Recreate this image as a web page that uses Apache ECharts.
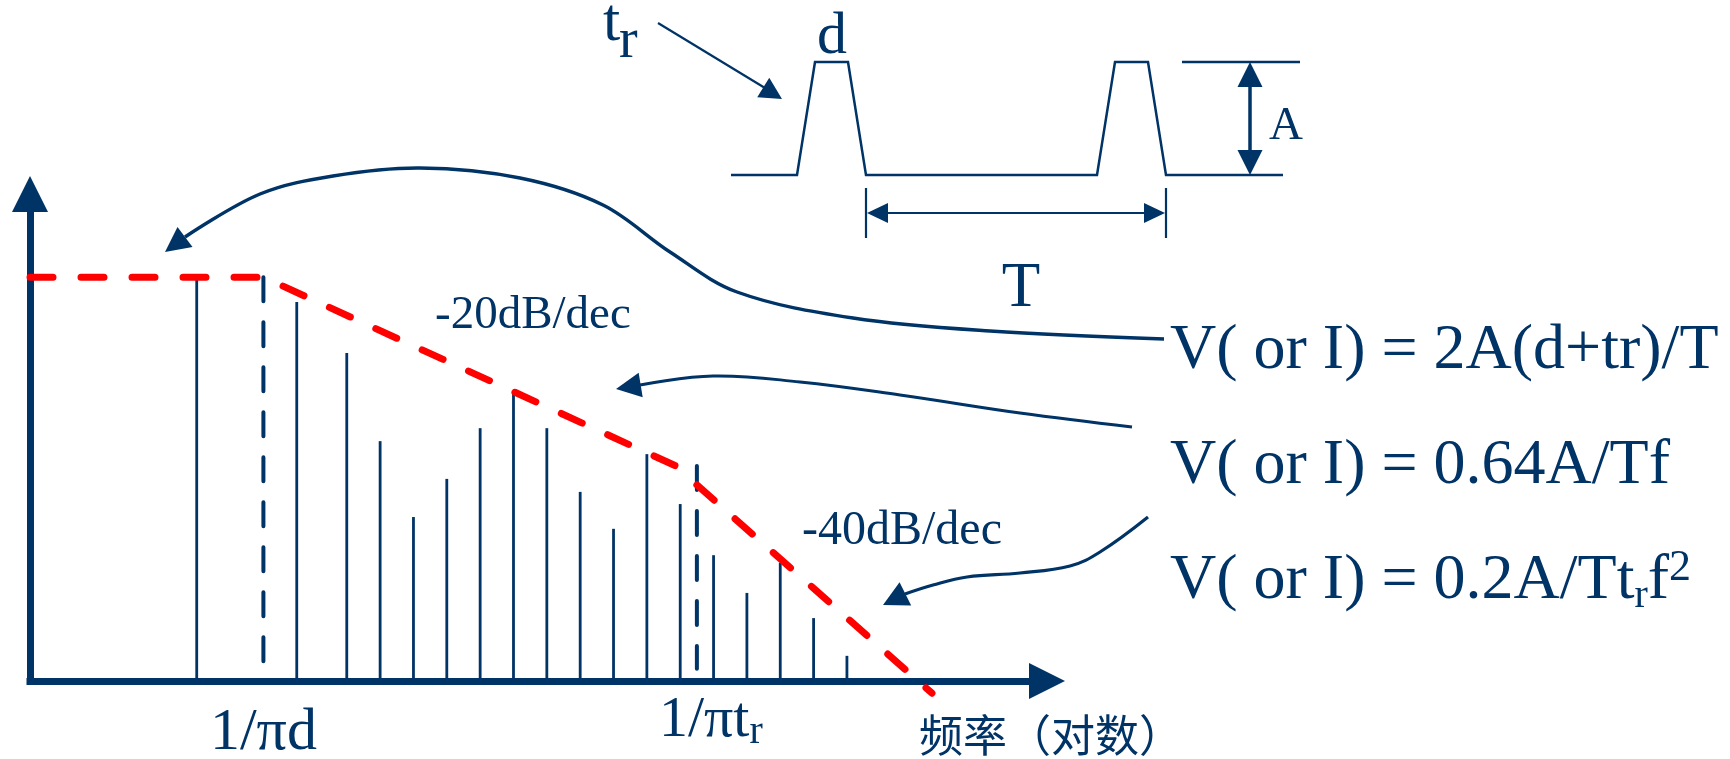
<!DOCTYPE html>
<html>
<head>
<meta charset="utf-8">
<script src="https://cdn.jsdelivr.net/npm/echarts@6.0.0/dist/echarts.min.js"></script>
<style>
  html, body { margin: 0; padding: 0; background: #ffffff; }
  #chart { width: 1730px; height: 759px; }
</style>
</head>
<body>
<div id="chart"></div>
<script>
// Spectrum of a trapezoidal pulse train, frequency on a log scale (schematic units)
const harmonicFreq = [5, 8, 9.5, 10.5, 11.5, 12.5, 13.5, 14.5, 15.5, 16.5, 17.5, 18.5, 19.5, 20.5, 21.5, 22.5, 23.5, 24.5];
const harmonicAmp  = [98.8, 93.4, 80.8, 59.1, 40.4, 49.8, 62.3, 71.2, 62.3, 46.6, 37.5, 55.9, 43.6, 31.0, 21.7, 29.1, 15.5, 6.2];

// Envelope: flat level, then -20 dB/dec up to 1/πtr
const envelopeFreq = [0, 7, 19.5];
const envelopeAmp  = [99.5, 99.5, 52.5];
// Envelope beyond 1/πtr: -40 dB/dec
const rolloffFreq = [20, 27.05];
const rolloffAmp  = [48.3, -3.0];

// Corner frequencies 1/πd and 1/πtr (dashed markers)
const cornerFreq   = [7, 20];
const cornerTop    = [99.5, 53.0];
const cornerBottom = [4.7, 3.0];

// Time-domain pulse train: amplitude A = 1, period T = 10
const pulseTime  = [-4.5, -2.3, -1.7, -0.6, 0, 7.7, 8.3, 9.4, 10, 13.9];
const pulseLevel = [0, 0, 1, 1, 0, 0, 1, 1, 0, 0];

const NAVY = '#003366';
const RED = '#ff0000';
const SERIF = '"Liberation Serif", "Times New Roman", serif';

const chart = echarts.init(document.getElementById('chart'), null, { renderer: 'canvas' });

const option = {
  backgroundColor: '#ffffff',
  animation: false,
  grid: [
    { left: 30, top: 194, width: 1017, height: 487, outerBoundsMode: 'none', containLabel: false },
    { left: 731, top: 62, width: 552, height: 113, outerBoundsMode: 'none', containLabel: false }
  ],
  xAxis: [
    {
      type: 'value', gridIndex: 0, min: 0, max: 30.5,
      axisLine: {
        show: true, onZero: true,
        symbol: ['none', 'triangle'], symbolSize: [36, 36],
        lineStyle: { color: NAVY, width: 7, cap: 'square' }
      },
      axisTick: { show: false },
      splitLine: { show: false },
      axisLabel: {
        show: true,
        customValues: cornerFreq,
        margin: 8,
        formatter: function (v) {
          return v === cornerFreq[0] ? '{d|1/πd}' : '{m|1/πt}{s|r}';
        },
        rich: {
          d: { fontFamily: SERIF, fontSize: 60, color: NAVY, lineHeight: 88 },
          m: { fontFamily: SERIF, fontSize: 58, color: NAVY, lineHeight: 63, padding: [0, 0, 0, 28] },
          s: { fontFamily: SERIF, fontSize: 40, color: NAVY, lineHeight: 21, verticalAlign: 'bottom' }
        }
      },
      name: '频率（对数）',
      nameLocation: 'end',
      nameGap: 4,
      nameMoveOverlap: false,
      nameTextStyle: {
        fontFamily: '"Noto Sans CJK SC", sans-serif',
        fontSize: 44, color: NAVY,
        align: 'center', verticalAlign: 'top',
        padding: [32, 0, 0, 0]
      }
    },
    { type: 'value', gridIndex: 1, min: -4.5, max: 13.9, show: false }
  ],
  yAxis: [
    {
      type: 'value', gridIndex: 0, min: 0, max: 120,
      axisLine: {
        show: true,
        symbol: ['none', 'triangle'], symbolSize: [36, 36],
        lineStyle: { color: NAVY, width: 7, cap: 'square' }
      },
      axisTick: { show: false },
      axisLabel: { show: false },
      splitLine: { show: false }
    },
    { type: 'value', gridIndex: 1, min: 0, max: 1, show: false }
  ],
  series: [
    {
      // spectral lines
      type: 'custom', xAxisIndex: 0, yAxisIndex: 0, silent: true, z: 3,
      data: harmonicFreq.map((f, i) => [f, harmonicAmp[i]]),
      encode: { x: 0, y: 1 },
      renderItem: function (params, api) {
        const top = api.coord([api.value(0), api.value(1)]);
        const base = api.coord([api.value(0), 0]);
        return {
          type: 'line',
          shape: { x1: base[0], y1: base[1], x2: top[0], y2: top[1] },
          style: { stroke: NAVY, lineWidth: 2.8 }
        };
      }
    },
    {
      // dashed corner-frequency markers
      type: 'custom', xAxisIndex: 0, yAxisIndex: 0, silent: true, z: 3,
      data: cornerFreq.map((f, i) => [f, cornerTop[i], cornerBottom[i]]),
      encode: { x: 0, y: [1, 2] },
      renderItem: function (params, api) {
        const top = api.coord([api.value(0), api.value(1)]);
        const bottom = api.coord([api.value(0), api.value(2)]);
        return {
          type: 'line',
          shape: { x1: top[0], y1: top[1], x2: bottom[0], y2: bottom[1] },
          style: { stroke: NAVY, lineWidth: 4, lineDash: [24, 21], lineCap: 'round' }
        };
      }
    },
    {
      type: 'line', xAxisIndex: 0, yAxisIndex: 0, silent: true, z: 5, clip: false,
      symbol: 'none',
      data: envelopeFreq.map((f, i) => [f, envelopeAmp[i]]),
      lineStyle: { color: RED, width: 7, type: [23, 28], cap: 'round' }
    },
    {
      type: 'line', xAxisIndex: 0, yAxisIndex: 0, silent: true, z: 5, clip: false,
      symbol: 'none',
      data: rolloffFreq.map((f, i) => [f, rolloffAmp[i]]),
      lineStyle: { color: RED, width: 7, type: [23, 28], cap: 'round' }
    },
    {
      // pulse waveform
      type: 'line', xAxisIndex: 1, yAxisIndex: 1, silent: true, clip: false,
      symbol: 'none',
      data: pulseTime.map((t, i) => [t, pulseLevel[i]]),
      lineStyle: { color: NAVY, width: 2.5, join: 'miter' }
    }
  ]
};

chart.setOption(option);

// ---- annotations: arrows, dimension lines and text ----
function arrowHead(tip, from, len, wid) {
  const dx = tip[0] - from[0], dy = tip[1] - from[1];
  const d = Math.sqrt(dx * dx + dy * dy);
  const ux = dx / d, uy = dy / d;
  const bx = tip[0] - ux * len, by = tip[1] - uy * len;
  const nx = -uy * wid / 2, ny = ux * wid / 2;
  return {
    type: 'polygon', silent: true, z: 10,
    shape: { points: [tip, [bx + nx, by + ny], [bx - nx, by - ny]] },
    style: { fill: NAVY }
  };
}
function curve(points, width, smooth) {
  return {
    type: 'polyline', silent: true, z: 10,
    shape: { points: points, smooth: smooth },
    style: { stroke: NAVY, lineWidth: width, fill: null }
  };
}
function seg(a, b, width) {
  return {
    type: 'line', silent: true, z: 10,
    shape: { x1: a[0], y1: a[1], x2: b[0], y2: b[1] },
    style: { stroke: NAVY, lineWidth: width }
  };
}
function label(text, x, y, size, align) {
  return {
    type: 'text', silent: true, z: 10, x: x, y: y,
    style: {
      text: text, fill: NAVY, fontFamily: SERIF, fontSize: size,
      align: align || 'left', verticalAlign: 'middle'
    }
  };
}

const P = (t, v) => chart.convertToPixel({ gridIndex: 1 }, [t, v]);
const fallEnd0 = P(0, 0), fallEnd1 = P(10, 0);
const levelTop = P(0, 1)[1], levelBase = P(0, 0)[1];
const dimY = levelBase + 38;
const aX = 1250;

const graphics = [
  // curve to the flat part of the envelope
  curve([[185, 237], [260, 194], [333, 176], [420, 168], [520, 178], [603, 205],
         [670, 252], [737, 292], [853, 318], [990, 331], [1164, 339]], 3.4, 0.35),
  arrowHead([165, 252], [185, 237], 25, 25),
  // curve to the -20 dB/dec segment
  curve([[640, 385], [713, 376], [800, 382], [900, 395], [1020, 413], [1132, 427]], 3, 0.4),
  arrowHead([616, 389], [640.5, 385], 25, 25),
  // curve to the -40 dB/dec segment
  curve([[905, 594], [933, 585], [967, 577], [1020, 573], [1070, 566], [1100, 552], [1148, 517]], 3.2, 0.4),
  arrowHead([883, 605], [905, 594], 25, 26),
  // rise-time pointer
  seg([658, 23], [765, 88], 2.2),
  arrowHead([782, 99], [658, 23], 22, 23),
  // period T
  seg([fallEnd0[0], dimY - 25], [fallEnd0[0], dimY + 25], 2.2),
  seg([fallEnd1[0], dimY - 25], [fallEnd1[0], dimY + 25], 2.2),
  seg([fallEnd0[0] + 15, dimY], [fallEnd1[0] - 15, dimY], 2.2),
  arrowHead([fallEnd0[0] + 1, dimY], [fallEnd1[0], dimY], 21, 20),
  arrowHead([fallEnd1[0] - 1, dimY], [fallEnd0[0], dimY], 21, 20),
  // amplitude A
  seg([1182, levelTop], [1300, levelTop], 2.5),
  seg([aX, levelTop + 20], [aX, levelBase - 20], 3.5),
  arrowHead([aX, levelTop], [aX, levelBase], 25, 25),
  arrowHead([aX, levelBase], [aX, levelTop], 25, 25),
  // texts
  label('t', 603, 24, 62),
  label('r', 619, 42, 56),
  label('d', 832, 37, 60, 'center'),
  label('A', 1269, 127, 47),
  label('T', 1021, 289, 63, 'center'),
  label('-20dB/dec', 435, 316, 47),
  label('-40dB/dec', 802, 531, 48),
  label('V( or I) = 2A(d+tr)/T', 1170, 351, 64),
  label('V( or I) = 0.64A/Tf', 1170, 466, 64),
  {
    type: 'text', silent: true, z: 10, x: 1170, y: 581,
    style: {
      text: '{m|V( or I) = 0.2A/Tt}{s|r}{m|f}{p|2}',
      fill: NAVY, align: 'left', verticalAlign: 'middle',
      rich: {
        m: { fontFamily: SERIF, fontSize: 64, fill: NAVY, lineHeight: 70 },
        s: { fontFamily: SERIF, fontSize: 40, fill: NAVY, lineHeight: 21, verticalAlign: 'bottom' },
        p: { fontFamily: SERIF, fontSize: 44, fill: NAVY, lineHeight: 52, verticalAlign: 'top' }
      }
    }
  }
];

chart.setOption({ graphic: { elements: graphics } });
</script>
</body>
</html>
